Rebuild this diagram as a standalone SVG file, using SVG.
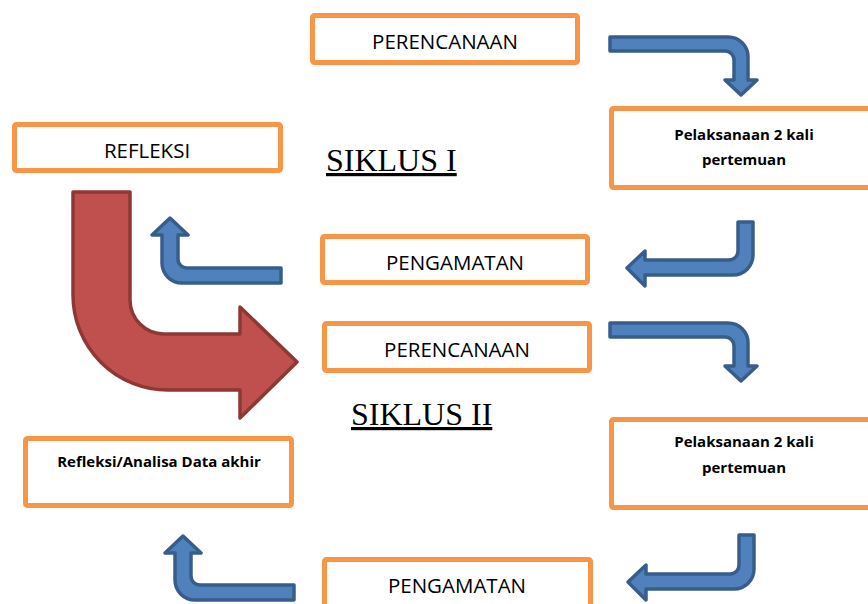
<svg xmlns="http://www.w3.org/2000/svg" width="868" height="604" viewBox="0 0 868 604">
<style>
.box{fill:#fff;stroke:#f79646;stroke-width:5}
.lbl{font-family:"Open Sans","Liberation Sans",sans-serif;font-size:20.5px;fill:#000;text-anchor:middle}
.bld{font-family:"Open Sans","Liberation Sans",sans-serif;font-size:15px;font-weight:bold;fill:#000;text-anchor:middle}
.sik{font-family:"Liberation Serif","Times New Roman",serif;font-size:32px;fill:#000;text-decoration:underline}
.blue{fill:#4f81bd;stroke:#385d8a;stroke-width:3.5;stroke-linejoin:round}
.red{fill:#c0504d;stroke:#8c3836;stroke-width:3.5;stroke-linejoin:round}
</style>
<rect width="868" height="604" fill="#fff"/>
<g id="connectors">
<path class="red" d="M73,192 H130 V300 A34,34 0 0 0 164,334 H240 V307 L297,362 L240,418 V390 H168 A95,95 0 0 1 73,295 Z"/>
<path class="blue" d="M610,37 H728 A20,20 0 0 1 748,57 V80 H757 L741,95 L725,80 H734 V60 A9,9 0 0 0 725,51 H610 Z"/>
<path class="blue" d="M281,268 V283 H182 A20,20 0 0 1 162,263 V235 H152 L170,218 L188,235 H178 V259 A9,9 0 0 0 187,268 Z"/>
<path class="blue" d="M738,222 H753 V255 A20,20 0 0 1 733,275 H645 V286 L627,268 L645,251 V260 H729 A9,9 0 0 0 738,251 Z"/>
<path class="blue" d="M610,323 H728 A20,20 0 0 1 748,343 V366 H757 L741,381 L725,366 H734 V346 A9,9 0 0 0 725,337 H610 Z"/>
<path class="blue" d="M294,585 V600 H195 A20,20 0 0 1 175,580 V553 H165 L183,536 L201,553 H191 V576 A9,9 0 0 0 200,585 Z"/>
<path class="blue" d="M739,535 H754 V569 A20,20 0 0 1 734,589 H646 V600 L628,582 L646,565 V574 H730 A9,9 0 0 0 739,565 Z"/>
</g>
<g id="perencanaan1"><rect class="box" x="312.5" y="15.5" width="265" height="47" rx="2"/><text class="lbl" x="445" y="49">PERENCANAAN</text></g>
<g id="refleksi"><rect class="box" x="14.5" y="124.5" width="266" height="46" rx="2"/><text class="lbl" x="147" y="158">REFLEKSI</text></g>
<g id="siklus1"><text class="sik" x="326" y="171">SIKLUS I</text></g>
<g id="pelaksanaan1"><rect class="box" x="611.5" y="108.5" width="268" height="79" rx="2"/><text class="bld" x="744" y="140">Pelaksanaan 2 kali</text><text class="bld" x="744" y="165">pertemuan</text></g>
<g id="pengamatan1"><rect class="box" x="322.5" y="236.5" width="265" height="46" rx="2"/><text class="lbl" x="455" y="270">PENGAMATAN</text></g>
<g id="perencanaan2"><rect class="box" x="324.5" y="323.5" width="265" height="47" rx="2"/><text class="lbl" x="457" y="357">PERENCANAAN</text></g>
<g id="siklus2"><text class="sik" x="351" y="425">SIKLUS II</text></g>
<g id="pelaksanaan2"><rect class="box" x="611.5" y="419.5" width="268" height="88" rx="2"/><text class="bld" x="744" y="447">Pelaksanaan 2 kali</text><text class="bld" x="744" y="473">pertemuan</text></g>
<g id="refleksi2"><rect class="box" x="25.5" y="438.5" width="266" height="67" rx="2"/><text class="bld" x="159" y="467">Refleksi/Analisa Data akhir</text></g>
<g id="pengamatan2"><rect class="box" x="324.5" y="559.5" width="266" height="60" rx="2"/><text class="lbl" x="457" y="593">PENGAMATAN</text></g>
</svg>
